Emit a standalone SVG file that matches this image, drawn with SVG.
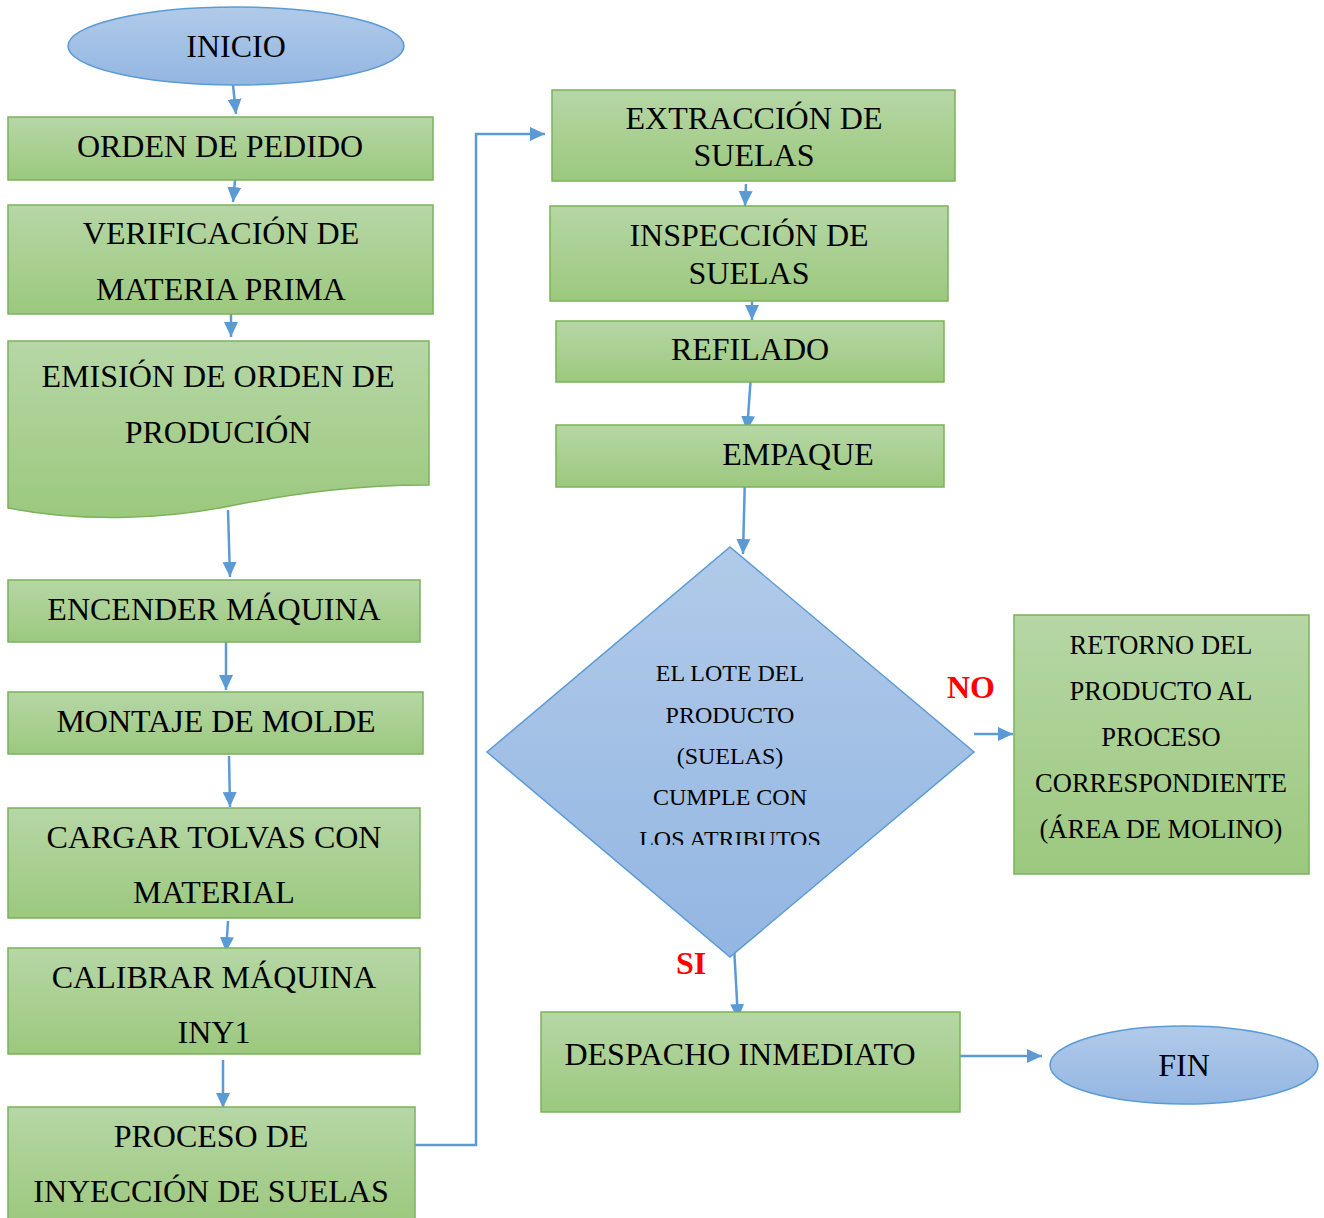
<svg xmlns="http://www.w3.org/2000/svg" width="1324" height="1218" viewBox="0 0 1324 1218">
<style>
.box{fill:url(#gGreen);stroke:#79B35A;stroke-width:1.5}
.term{fill:url(#gBlue);stroke:#5B9BD5;stroke-width:1.5}
.t{font-family:"Liberation Serif","Times New Roman",serif;font-size:32px;fill:#000;text-anchor:middle}
.ts{font-family:"Liberation Serif","Times New Roman",serif;font-size:24px;fill:#000;text-anchor:middle}
.tm{font-family:"Liberation Serif","Times New Roman",serif;font-size:26.5px;fill:#000;text-anchor:middle}
.lab{font-family:"Liberation Serif","Times New Roman",serif;font-size:32px;font-weight:bold;fill:#FF0000}
.c{fill:none;stroke:#5B9BD5;stroke-width:2.5;marker-end:url(#ah)}
</style>
<defs>
<linearGradient id="gGreen" x1="0" y1="0" x2="0" y2="1">
<stop offset="0" stop-color="#B6D7A6"/>
<stop offset="1" stop-color="#9CC87E"/>
</linearGradient>
<linearGradient id="gBlue" x1="0" y1="0" x2="0" y2="1">
<stop offset="0" stop-color="#B1CAE9"/>
<stop offset="1" stop-color="#93B6E2"/>
</linearGradient>
<marker id="ah" markerUnits="userSpaceOnUse" markerWidth="16" markerHeight="16" viewBox="0 0 16 16" refX="15" refY="8" orient="auto">
<path d="M0,1 L15,8 L0,15 z" fill="#5B9BD5"/>
</marker>
<clipPath id="dclip"><rect x="480" y="540" width="500" height="305"/></clipPath>
</defs>

<g id="connectors">
<path class="c" d="M233,85 L236,114"/>
<path class="c" d="M235,180 L233,202"/>
<path class="c" d="M231,313 L231,337"/>
<path class="c" d="M228,510 L230,577"/>
<path class="c" d="M226,642 L226,690"/>
<path class="c" d="M229,756 L230,807"/>
<path class="c" d="M228,921 L226,952"/>
<path class="c" d="M223,1060 L223,1108"/>
<path class="c" d="M409,1145 L476,1145 L476,134 L545,134"/>
<path class="c" d="M746,184 L745,206"/>
<path class="c" d="M752,301 L752,320"/>
<path class="c" d="M751,375 L747,431"/>
<path class="c" d="M745,475 L743,554"/>
<path class="c" d="M974,734 L1013,734"/>
<path class="c" d="M733,928 L738,1019"/>
<path class="c" d="M960,1056 L1042,1056"/>
</g>

<g id="inicio">
<ellipse class="term" cx="236" cy="46" rx="168" ry="39"/>
<text class="t" x="236" y="57">INICIO</text>
</g>

<g id="orden-pedido">
<rect class="box" x="8" y="117" width="425" height="63"/>
<text class="t" x="220" y="157">ORDEN DE PEDIDO</text>
</g>

<g id="verificacion">
<rect class="box" x="8" y="205" width="425" height="109"/>
<text class="t" x="221" y="244">VERIFICACIÓN DE</text>
<text class="t" x="221" y="300">MATERIA PRIMA</text>
</g>

<g id="emision">
<path class="box" d="M8,341 H429 V485 C360,485 300,492 230,506 C160,520 80,522 8,508 Z"/>
<text class="t" x="218" y="387">EMISIÓN DE ORDEN DE</text>
<text class="t" x="218" y="443">PRODUCIÓN</text>
</g>

<g id="encender">
<rect class="box" x="8" y="580" width="412" height="62"/>
<text class="t" x="214" y="620">ENCENDER MÁQUINA</text>
</g>

<g id="montaje">
<rect class="box" x="8" y="692" width="415" height="62"/>
<text class="t" x="216" y="732">MONTAJE DE MOLDE</text>
</g>

<g id="cargar">
<rect class="box" x="8" y="808" width="412" height="110"/>
<text class="t" x="214" y="848">CARGAR TOLVAS CON</text>
<text class="t" x="214" y="903">MATERIAL</text>
</g>

<g id="calibrar">
<rect class="box" x="8" y="948" width="412" height="106"/>
<text class="t" x="214" y="988">CALIBRAR MÁQUINA</text>
<text class="t" x="214" y="1043">INY1</text>
</g>

<g id="proceso">
<rect class="box" x="8" y="1107" width="407" height="115"/>
<text class="t" x="211" y="1147">PROCESO DE</text>
<text class="t" x="211" y="1202">INYECCIÓN DE SUELAS</text>
</g>

<g id="extraccion">
<rect class="box" x="552" y="90" width="403" height="91"/>
<text class="t" x="754" y="129">EXTRACCIÓN DE</text>
<text class="t" x="754" y="166">SUELAS</text>
</g>

<g id="inspeccion">
<rect class="box" x="550" y="206" width="398" height="95"/>
<text class="t" x="749" y="246">INSPECCIÓN DE</text>
<text class="t" x="749" y="284">SUELAS</text>
</g>

<g id="refilado">
<rect class="box" x="556" y="321" width="388" height="61"/>
<text class="t" x="750" y="360">REFILADO</text>
</g>

<g id="empaque">
<rect class="box" x="556" y="425" width="388" height="62"/>
<text class="t" x="798" y="465">EMPAQUE</text>
</g>

<g id="decision">
<path class="term" d="M730,547 L974,752 L730,957 L487,752 Z"/>
<g clip-path="url(#dclip)">
<text class="ts" x="730" y="681">EL LOTE DEL</text>
<text class="ts" x="730" y="723">PRODUCTO</text>
<text class="ts" x="730" y="764">(SUELAS)</text>
<text class="ts" x="730" y="805">CUMPLE CON</text>
<text class="ts" x="730" y="847">LOS ATRIBUTOS</text>
</g>
</g>

<g id="retorno">
<rect class="box" x="1014" y="615" width="295" height="259"/>
<text class="tm" x="1161" y="654">RETORNO DEL</text>
<text class="tm" x="1161" y="700">PRODUCTO AL</text>
<text class="tm" x="1161" y="746">PROCESO</text>
<text class="tm" x="1161" y="792">CORRESPONDIENTE</text>
<text class="tm" x="1161" y="838">(ÁREA DE MOLINO)</text>
</g>

<g id="despacho">
<rect class="box" x="541" y="1012" width="419" height="100"/>
<text class="t" x="740" y="1065">DESPACHO INMEDIATO</text>
</g>

<g id="fin">
<ellipse class="term" cx="1184" cy="1065" rx="134" ry="39"/>
<text class="t" x="1184" y="1076">FIN</text>
</g>

<g id="labels">
<text class="lab" x="947" y="698">NO</text>
<text class="lab" x="676" y="974">SI</text>
</g>
</svg>
